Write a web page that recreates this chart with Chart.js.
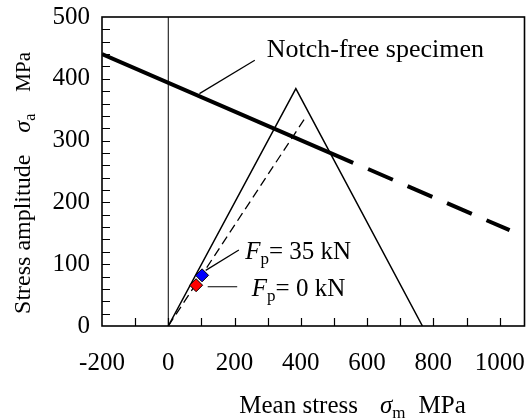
<!DOCTYPE html>
<html>
<head>
<meta charset="utf-8">
<script src="https://cdn.jsdelivr.net/npm/chart.js@4/dist/chart.umd.min.js"></script>
<style>
html,body{margin:0;padding:0;background:#fff;}
#wrap{width:532px;height:419px;position:relative;}
</style>
</head>
<body>
<div id="wrap"><canvas id="c" width="532" height="419"></canvas></div>
<script>
// ---- data ----
const xLabelTicks = [-200, 0, 200, 400, 600, 800, 1000];
const xMinorTicks = [-100, 0, 100, 200, 300, 400, 500, 600, 700, 800, 900, 1000];
const yLabelTicks = [0, 100, 200, 300, 400, 500];
const yMinorTicks = [20, 40, 60, 80, 100, 120, 140, 160, 180, 200, 220, 240, 260, 280, 300, 320, 340, 360, 380, 400, 420, 440, 460, 480];

const notchSolidX = [-200, 558];
const notchSolidY = [440, 264];
const notchDashX = [603, 1030];
const notchDashY = [254, 155];
const triangleX = [0, 385, 767];
const triangleY = [0, 384, 0];
const dashLineX = [0, 411];
const dashLineY = [0, 335];
const zeroLineX = [0, 0];
const zeroLineY = [0, 500];
const fp35Point = [102, 82];
const fp0Point = [84, 66];
const notchLeaderX = [94, 261];
const notchLeaderY = [376, 430];
const fp35LeaderX = [113, 213];
const fp35LeaderY = [90, 123];
const fp0LeaderX = [119, 208];
const fp0LeaderY = [63.5, 63.5];

const FONT = '"Liberation Serif", "Times New Roman", serif';

function pts(xs, ys) { return xs.map((x, i) => ({x: x, y: ys[i]})); }

function lineDs(xs, ys, width, dash) {
  return {
    data: pts(xs, ys), showLine: true, pointRadius: 0, pointHoverRadius: 0,
    borderColor: '#000', backgroundColor: '#000', borderWidth: width,
    borderDash: dash || [], tension: 0, borderCapStyle: 'butt'
  };
}

function drawRuns(ctx, x, y, runs, align) {
  let total = 0;
  runs.forEach(r => { ctx.font = r.font; r.w = ctx.measureText(r.text).width; total += r.w + (r.pre || 0); });
  let cx = align === 'center' ? x - total / 2 : x;
  runs.forEach(r => {
    ctx.font = r.font; cx += (r.pre || 0);
    ctx.fillText(r.text, cx, y + (r.dy || 0));
    cx += r.w;
  });
}

const decor = {
  id: 'decor',
  afterDatasetsDraw(chart) {
    const ctx = chart.ctx, a = chart.chartArea;
    const xs = chart.scales.x, ys = chart.scales.y;
    ctx.save();
    ctx.strokeStyle = '#000';
    ctx.lineWidth = 1.6;
    ctx.strokeRect(a.left, a.top, a.right - a.left, a.bottom - a.top);
    ctx.lineWidth = 1.2;
    ctx.beginPath();
    xMinorTicks.forEach(v => {
      const px = Math.round(xs.getPixelForValue(v)) + 0.5;
      ctx.moveTo(px, a.bottom); ctx.lineTo(px, a.bottom - 8);
    });
    yMinorTicks.forEach(v => {
      const py = Math.round(ys.getPixelForValue(v)) + 0.5;
      ctx.moveTo(a.left, py); ctx.lineTo(a.left + 8, py);
    });
    ctx.stroke();

    ctx.fillStyle = '#000';
    ctx.textBaseline = 'alphabetic';
    ctx.textAlign = 'left';
    // Notch-free label
    drawRuns(ctx, xs.getPixelForValue(297), ys.getPixelForValue(435),
      [{text: 'Notch-free specimen', font: '26px ' + FONT}], 'left');
    // Fp labels
    drawRuns(ctx, xs.getPixelForValue(232), ys.getPixelForValue(109), [
      {text: 'F', font: 'italic 25px ' + FONT},
      {text: 'p', font: '17px ' + FONT, dy: 5},
      {text: '= 35 kN', font: '25px ' + FONT}
    ], 'left');
    drawRuns(ctx, xs.getPixelForValue(252), ys.getPixelForValue(48.5), [
      {text: 'F', font: 'italic 25px ' + FONT},
      {text: 'p', font: '17px ' + FONT, dy: 5},
      {text: '= 0 kN', font: '25px ' + FONT}
    ], 'left');
    // x title
    drawRuns(ctx, 352.5, 413, [
      {text: 'Mean stress', font: '25px ' + FONT},
      {text: '\u03C3', font: 'italic 25px ' + FONT, pre: 22},
      {text: 'm', font: '17px ' + FONT, dy: 5},
      {text: 'MPa', font: '25px ' + FONT, pre: 13}
    ], 'center');
    // y title
    ctx.translate(30, 183);
    ctx.rotate(-Math.PI / 2);
    drawRuns(ctx, 0, 0, [
      {text: 'Stress amplitude', font: '24px ' + FONT},
      {text: '\u03C3', font: 'italic 24px ' + FONT, pre: 22},
      {text: 'a', font: '16px ' + FONT, dy: 5},
      {text: 'MPa', font: '21px ' + FONT, pre: 22}
    ], 'center');
    ctx.restore();
  }
};

const markerFp35 = {
  data: [{x: fp35Point[0], y: fp35Point[1]}], showLine: false,
  pointStyle: 'rectRot', pointRadius: 6.5, pointHoverRadius: 6.5,
  backgroundColor: '#0000ff', borderColor: '#000', borderWidth: 1
};
const markerFp0 = {
  data: [{x: fp0Point[0], y: fp0Point[1]}], showLine: false,
  pointStyle: 'rectRot', pointRadius: 6.5, pointHoverRadius: 6.5,
  backgroundColor: '#ff0000', borderColor: '#000', borderWidth: 1
};

new Chart(document.getElementById('c'), {
  type: 'scatter',
  data: {
    datasets: [
      markerFp35,
      markerFp0,
      lineDs(notchSolidX, notchSolidY, 4),
      lineDs(notchDashX, notchDashY, 4, [27, 16]),
      lineDs(triangleX, triangleY, 1.5),
      lineDs(dashLineX, dashLineY, 1.3, [9, 5]),
      lineDs(zeroLineX, zeroLineY, 1),
      lineDs(notchLeaderX, notchLeaderY, 1.2),
      lineDs(fp35LeaderX, fp35LeaderY, 1.2),
      lineDs(fp0LeaderX, fp0LeaderY, 1.2)
    ]
  },
  options: {
    responsive: false,
    animation: false,
    devicePixelRatio: 1,
    layout: {padding: {top: 17, right: 1, left: 0, bottom: 0}},
    plugins: {legend: {display: false}, tooltip: {enabled: false}},
    events: [],
    scales: {
      x: {
        type: 'linear', min: -200, max: 1075,
        afterBuildTicks: s => { s.ticks = xLabelTicks.map(v => ({value: v})); },
        afterFit: s => { s.height = 93; s.paddingLeft = 0; s.paddingRight = 0; s.paddingTop = 0; s.paddingBottom = 0; },
        grid: {display: false, drawTicks: false},
        border: {display: false},
        ticks: {
          autoSkip: false, maxRotation: 0, padding: 22, color: '#000',
          font: {family: FONT, size: 25},
          callback: v => String(v)
        }
      },
      y: {
        type: 'linear', min: 0, max: 500,
        afterBuildTicks: s => { s.ticks = yLabelTicks.map(v => ({value: v})); },
        afterFit: s => { s.width = 102; s.paddingLeft = 0; s.paddingRight = 0; s.paddingTop = 0; s.paddingBottom = 0; },
        grid: {display: false, drawTicks: false},
        border: {display: false},
        ticks: {
          autoSkip: false, padding: 12, color: '#000',
          font: {family: FONT, size: 25},
          callback: v => String(v)
        }
      }
    }
  },
  plugins: [decor]
});
</script>
</body>
</html>
